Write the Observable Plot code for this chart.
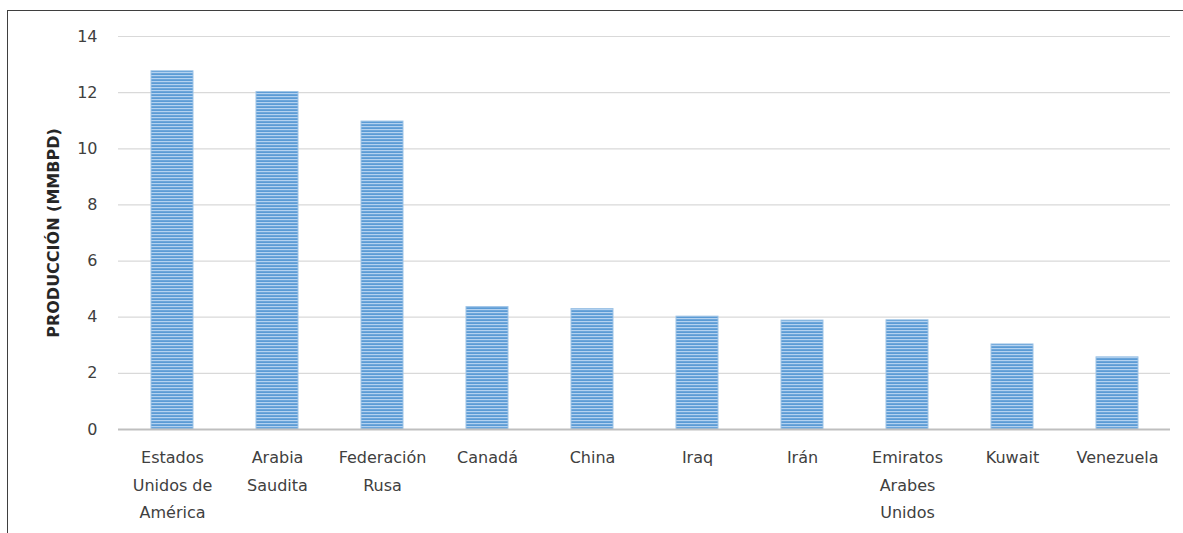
<!DOCTYPE html>
<html>
<head>
<meta charset="utf-8">
<script src="https://cdn.jsdelivr.net/npm/d3@7"></script>
<script src="https://cdn.jsdelivr.net/npm/@observablehq/plot@0.6"></script>
<style>
  html, body { margin: 0; padding: 0; background: #fff; overflow: hidden; }
  #frame {
    position: absolute; left: 7px; top: 10px;
    border-left: 1px solid #3f3f3f; border-top: 1px solid #3f3f3f;
    width: 1176px; height: 523px;
  }
  #frame svg { display: block; }
</style>
</head>
<body>
<div id="frame"></div>
<script>
// Oil production by country (million barrels per day)
const countries = [
  "Estados Unidos de América", "Arabia Saudita", "Federación Rusa", "Canadá", "China",
  "Iraq", "Irán", "Emiratos Arabes Unidos", "Kuwait", "Venezuela"
];
const tickLabels = [
  "Estados\nUnidos de\nAmérica", "Arabia\nSaudita", "Federación\nRusa", "Canadá", "China",
  "Iraq", "Irán", "Emiratos\nArabes\nUnidos", "Kuwait", "Venezuela"
];
const production = [12.76, 12.02, 10.97, 4.36, 4.29, 4.02, 3.88, 3.89, 3.03, 2.57];
const yTicks = [0, 2, 4, 6, 8, 10, 12, 14];

const data = countries.map((c, i) => ({country: c, value: production[i]}));
const labelOf = new Map(countries.map((c, i) => [c, tickLabels[i]]));

const font = "'DejaVu Sans', 'Open Sans', sans-serif";

const chart = Plot.plot({
  width: 1176,
  height: 523,
  marginLeft: 110,
  marginRight: 14,
  marginTop: 25,
  marginBottom: 105,
  style: {fontFamily: font, fontSize: "16px", color: "#404040", background: "#fff"},
  x: {domain: countries, paddingInner: 0.6, paddingOuter: 0.3, label: null},
  y: {domain: [0, 14], label: null},
  marks: [
    Plot.gridY(yTicks, {stroke: "#d9d9d9", strokeOpacity: 1, strokeWidth: 1.2}),
    Plot.barY(data, {
      x: "country", y: "value",
      fill: "url(#stripes)", stroke: "#9dc3e6", strokeWidth: 1
    }),
    Plot.ruleY([0], {stroke: "#bfbfbf", strokeWidth: 2}),
    Plot.axisY(yTicks, {
      tickSize: 0, tickPadding: 21, fontSize: 16, fill: "#404040", label: null
    }),
    Plot.axisX({
      tickSize: 0, tickPadding: 14, fontSize: 16, fill: "#404040",
      lineHeight: 1.72, tickFormat: d => labelOf.get(d), label: null
    }),
    Plot.text(["PRODUCCIÓN (MMBPD)"], {
      frameAnchor: "left", textAnchor: "middle", dx: -65, rotate: -90,
      fontWeight: "bold", fontSize: 16, fill: "#262626"
    })
  ]
});

// Horizontal stripe pattern used as bar fill
const defs = d3.select(chart).insert("defs", ":first-child");
const pat = defs.append("pattern")
  .attr("id", "stripes")
  .attr("patternUnits", "userSpaceOnUse")
  .attr("width", 6).attr("height", 3);
pat.append("rect").attr("width", 6).attr("height", 3).attr("fill", "#5b9bd5");
pat.append("rect").attr("y", 1).attr("width", 6).attr("height", 1.2).attr("fill", "#b4d2f0");

document.getElementById("frame").appendChild(chart);
</script>
</body>
</html>
